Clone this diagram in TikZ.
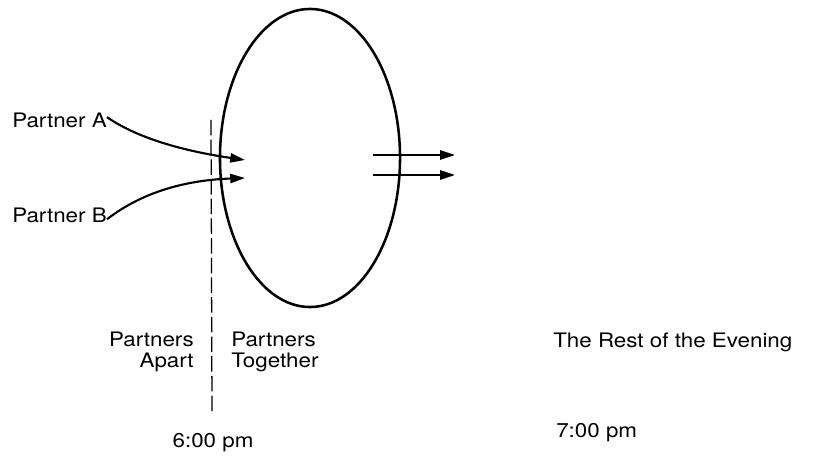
\documentclass[tikz,border=0pt]{standalone}
\usepackage{fontspec}
\setmainfont{TeX Gyre Heros}[FakeStretch=1.12]
\usepackage{tikz}
\usetikzlibrary{shapes.geometric, arrows.meta, positioning, calc}
\tikzset{
  label/.style = {inner sep=0pt, font=\fontsize{14.2}{15}\selectfont},
  ring/.style  = {ellipse, draw, line width=1.8pt, inner sep=0pt,
    minimum width=4.5cm, minimum height=7.45cm},
  arrow/.style = {line width=1.5pt, -{Triangle[length=10.5pt, width=6.5pt]}},
  divider/.style = {line width=0.9pt, dash pattern=on 11pt off 3pt},
}

\begin{document}
\begin{tikzpicture}[x=0.025cm, y=-0.025cm]
  \useasboundingbox (0,0) rectangle (816,458);

  % Meeting
  \node[ring] (together) at (310,158) {};

  % Partners
  \node[label, anchor=west] (pa) at (12,120) {Partner A};
  \node[label, anchor=west] (pb) at (12,215) {Partner B};
  \coordinate (tipa) at (245,160);
  \coordinate (tipb) at (245,178);
  \draw[arrow] ([yshift=2pt]pa.east) .. controls (140,140) and (190,152) .. (tipa);
  \draw[arrow] ([yshift=-3pt]pb.east) .. controls (145,190) and (190,180) .. (tipb);

  % Leaving
  \coordinate (outa1) at (373,155);
  \coordinate (outa2) at (455,155);
  \coordinate (outb1) at (373,175);
  \coordinate (outb2) at (455,175);
  \draw[arrow] (outa1) -- (outa2);
  \draw[arrow] (outb1) -- (outb2);

  % Time line
  \coordinate (sixtop) at (211,120);
  \coordinate (sixbot) at (212,413);
  \draw[divider] (sixtop) -- (sixbot);

  % Phases
  \node[label, anchor=east, align=right] (apart) at (194,352) {Partners\\Apart};
  \node[label, anchor=west, align=left] (with) at (231,352) {Partners\\Together};
  \node[label, anchor=west] (rest) at (553,342) {The Rest of the Evening};

  % Times
  \node[label] (six) at (213,443) {6:00 pm};
  \node[label, anchor=west] (seven) at (556,433) {7:00 pm};

\end{tikzpicture}
\end{document}
